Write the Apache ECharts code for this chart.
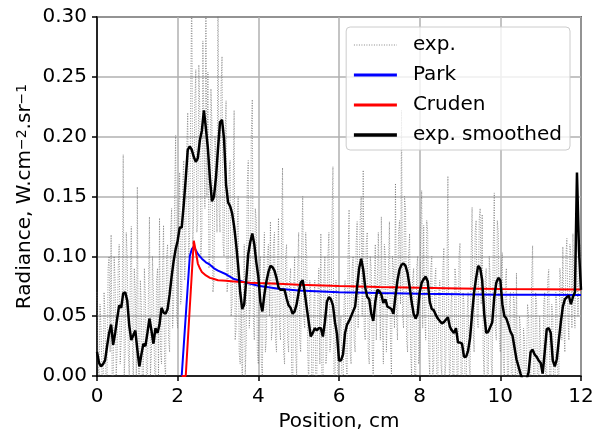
<!DOCTYPE html>
<html>
<head>
<meta charset="utf-8">
<script src="https://cdn.jsdelivr.net/npm/echarts@6/dist/echarts.min.js"></script>
<style>
  html, body { margin: 0; padding: 0; background: #fff; }
  #chart { width: 601px; height: 431px; }
</style>
</head>
<body>
<div id="chart"></div>
<script>
// Sampling steps along the position axis (cm)
const expStep = 0.025;
const smoothStep = 0.05;

// Measured radiance, raw (one row per cm)
const expValues = [
  0.07, 0.01, 0.00, 0.06, 0.04, 0.00, -0.02, 0.07, 0.05, -0.01, 0.00, 0.09, 0.10, 0.02, 0.118, 0.00, -0.01, 0.10, 0.08, 0.00,
  0.02, 0.09, 0.11, 0.01, 0.03, 0.06, 0.185, 0.00, 0.02, 0.12, 0.10, 0.02, 0.00, 0.08, 0.125, 0.03, -0.01, 0.09, 0.07, 0.00,
  0.158, 0.01, -0.02, 0.08, 0.06, -0.01, 0.00, 0.09, 0.066, 0.00, -0.01, 0.07, 0.133, 0.00, 0.02, 0.10, 0.07, 0.01, -0.02, 0.08,
  0.09, 0.00, 0.132, 0.02, 0.01, 0.09, 0.126, 0.01, 0.00, 0.10, 0.11, 0.03, 0.02, 0.12, 0.14, 0.04, 0.06, 0.15, 0.201, 0.05,
  0.04, 0.13, 0.17, 0.06, 0.07, 0.16, 0.18, 0.08, 0.11, 0.19, 0.22, 0.10, 0.12, 0.24, 0.33, 0.11, 0.14, 0.23, 0.256, 0.12,
  0.13, 0.26, 0.22, 0.10, 0.12, 0.28, 0.20, 0.14, 0.33, 0.15, 0.254, 0.09, 0.10, 0.24, 0.21, 0.07, 0.08, 0.20, 0.18, 0.12,
  0.33, 0.14, 0.12, 0.24, 0.267, 0.11, 0.10, 0.20, 0.23, 0.07, 0.08, 0.17, 0.18, 0.05, 0.06, 0.15, 0.222, 0.03, 0.04, 0.12,
  0.15, 0.02, 0.01, 0.07, -0.02, 0.05, 0.11, 0.00, 0.03, 0.16, 0.18, 0.04, 0.06, 0.20, 0.231, 0.05, 0.03, 0.14, 0.13, 0.02,
  0.01, 0.08, 0.10, 0.01, 0.00, 0.09, 0.12, 0.02, 0.03, 0.10, 0.11, 0.05, 0.129, 0.03, 0.04, 0.11, 0.12, 0.03, 0.02, 0.09,
  0.132, 0.04, 0.03, 0.12, 0.174, 0.02, 0.01, 0.10, 0.11, 0.03, 0.02, 0.08, 0.09, 0.01, -0.02, 0.07, 0.10, 0.02, 0.00, 0.09,
  0.12, 0.03, 0.02, 0.11, 0.15, 0.05, 0.04, 0.12, 0.10, 0.02, -0.01, 0.08, 0.07, 0.00, -0.02, 0.06, 0.08, -0.01, 0.00, 0.07,
  0.09, 0.01, 0.119, 0.00, -0.02, 0.08, 0.10, 0.01, 0.02, 0.10, 0.12, 0.02, 0.03, 0.13, 0.175, 0.00, -0.01, 0.08, 0.06, -0.02,
  -0.02, 0.04, 0.05, -0.01, -0.02, 0.06, 0.08, 0.01, 0.00, 0.10, 0.139, 0.02, 0.01, 0.09, 0.10, 0.03, 0.02, 0.11, 0.129, 0.04,
  0.04, 0.13, 0.15, 0.05, 0.172, 0.04, 0.03, 0.11, 0.12, 0.02, 0.01, 0.10, 0.09, 0.02, -0.01, 0.08, 0.11, 0.03, 0.03, 0.12,
  0.12, 0.03, 0.133, 0.04, 0.01, 0.11, 0.10, 0.02, 0.02, 0.09, 0.129, 0.03, 0.00, 0.10, 0.09, 0.04, 0.161, 0.05, 0.03, 0.12,
  0.13, 0.06, 0.222, 0.05, 0.04, 0.15, 0.14, 0.03, 0.02, 0.10, 0.119, 0.02, 0.00, 0.08, 0.09, 0.00, -0.01, 0.09, 0.10, 0.01,
  0.02, 0.12, 0.155, 0.04, 0.126, 0.05, 0.03, 0.13, 0.12, 0.02, 0.00, 0.09, 0.10, 0.00, 0.01, 0.08, 0.09, 0.00, -0.01, 0.07,
  0.08, 0.01, 0.00, 0.09, 0.107, 0.00, 0.01, 0.08, 0.167, 0.02, -0.02, 0.06, 0.07, -0.01, 0.00, 0.09, 0.08, 0.00, -0.01, 0.10,
  0.111, 0.00, -0.01, 0.07, 0.06, -0.01, -0.02, 0.05, 0.07, 0.01, 0.00, 0.10, 0.141, 0.04, 0.02, 0.12, 0.13, 0.05, 0.04, 0.13,
  0.14, 0.06, 0.135, 0.02, 0.00, 0.08, 0.09, 0.00, -0.01, 0.10, 0.08, 0.01, 0.00, 0.11, 0.153, 0.04, 0.03, 0.13, 0.12, 0.03,
  0.02, 0.09, 0.103, 0.01, 0.00, 0.08, 0.09, 0.00, -0.01, 0.06, 0.07, -0.01, -0.02, 0.07, 0.06, -0.02, 0.086, 0.00, -0.03, 0.05,
  0.04, -0.02, -0.04, 0.04, 0.03, -0.03, -0.03, 0.06, 0.05, 0.00, -0.02, 0.08, 0.109, -0.01, -0.02, 0.07, 0.06, -0.02, -0.01, 0.05,
  0.05, 0.00, -0.03, 0.06, 0.07, -0.01, 0.00, 0.08, 0.089, 0.00, -0.01, 0.06, 0.05, -0.02, -0.03, 0.07, 0.06, 0.00, -0.01, 0.09,
  0.08, 0.03, 0.108, 0.04, 0.02, 0.10, 0.115, 0.05, 0.03, 0.11, 0.10, 0.04, 0.119, 0.06, 0.04, 0.12, 0.12, 0.05, 0.05, 0.11,
  0.10
];

// Measured radiance, smoothed (one row per cm)
const smoothValues = [
  0.020, 0.011, 0.008, 0.010, 0.013, 0.025, 0.036, 0.043, 0.026, 0.036, 0.048, 0.059, 0.057, 0.069, 0.070, 0.063, 0.042, 0.030, 0.034, 0.038,
  0.022, 0.008, 0.018, 0.027, 0.025, 0.036, 0.048, 0.038, 0.027, 0.040, 0.036, 0.043, 0.057, 0.053, 0.052, 0.056, 0.068, 0.083, 0.096, 0.106,
  0.113, 0.124, 0.124, 0.143, 0.165, 0.189, 0.192, 0.189, 0.183, 0.179, 0.182, 0.197, 0.205, 0.222, 0.207, 0.190, 0.165, 0.146, 0.150, 0.166,
  0.190, 0.212, 0.214, 0.198, 0.160, 0.145, 0.142, 0.136, 0.125, 0.110, 0.092, 0.070, 0.056, 0.060, 0.080, 0.102, 0.112, 0.119, 0.110, 0.095,
  0.083, 0.062, 0.054, 0.068, 0.079, 0.087, 0.092, 0.091, 0.088, 0.082, 0.074, 0.072, 0.072, 0.072, 0.065, 0.059, 0.057, 0.052, 0.054, 0.060,
  0.070, 0.078, 0.080, 0.070, 0.057, 0.045, 0.033, 0.036, 0.040, 0.038, 0.040, 0.040, 0.033, 0.045, 0.062, 0.066, 0.064, 0.059, 0.045, 0.035,
  0.013, 0.013, 0.018, 0.036, 0.043, 0.046, 0.050, 0.054, 0.058, 0.075, 0.090, 0.098, 0.089, 0.074, 0.066, 0.064, 0.052, 0.046, 0.062, 0.072,
  0.071, 0.068, 0.061, 0.064, 0.058, 0.057, 0.056, 0.052, 0.067, 0.080, 0.089, 0.093, 0.094, 0.092, 0.086, 0.075, 0.062, 0.052, 0.048, 0.052,
  0.070, 0.078, 0.081, 0.083, 0.079, 0.062, 0.056, 0.055, 0.051, 0.048, 0.046, 0.044, 0.045, 0.047, 0.049, 0.041, 0.038, 0.036, 0.040, 0.028,
  0.028, 0.027, 0.016, 0.016, 0.021, 0.032, 0.052, 0.070, 0.082, 0.092, 0.090, 0.080, 0.052, 0.036, 0.037, 0.041, 0.045, 0.066, 0.078, 0.082,
  0.080, 0.060, 0.050, 0.048, 0.043, 0.037, 0.034, 0.024, 0.014, 0.008, 0.002, -0.003, -0.005, -0.003, 0.003, 0.020, 0.022, 0.018, 0.016, 0.013,
  0.011, 0.002, 0.020, 0.039, 0.040, 0.036, 0.013, 0.008, 0.014, 0.030, 0.045, 0.058, 0.064, 0.066, 0.067, 0.060, 0.066, 0.070, 0.170, 0.105,
  0.072
];

// Model predictions (positions in cm)
const modelX = [2.10, 2.20, 2.30, 2.35, 2.40, 2.45, 2.50, 2.55, 2.60, 2.70, 2.80, 2.90, 3.00, 3.20, 3.40, 3.60, 3.80, 4.00, 4.50, 5.00, 6.00, 7.00, 8.00, 9.00, 10.00, 11.00, 12.00];
const parkValues = [0, 0.050, 0.100, 0.106, 0.108, 0.105, 0.102, 0.100, 0.098, 0.095, 0.093, 0.090, 0.088, 0.085, 0.081, 0.079, 0.077, 0.0755, 0.073, 0.0715, 0.0700, 0.0693, 0.0687, 0.0683, 0.0680, 0.0678, 0.0676];
const crudenValues = [0, 0, 0.057, 0.085, 0.113, 0.104, 0.094, 0.090, 0.087, 0.084, 0.082, 0.081, 0.080, 0.0795, 0.079, 0.0785, 0.078, 0.0777, 0.0770, 0.0763, 0.0752, 0.0744, 0.0737, 0.0732, 0.0728, 0.0725, 0.0722];

// Axis ticks
const xTicks = [0, 2, 4, 6, 8, 10, 12];
const yTicks = [0.00, 0.05, 0.10, 0.15, 0.20, 0.25, 0.30];

const FONT = 'DejaVu Sans';
const sampled = (vals, dx) => vals.map((v, i) => [+(i * dx).toFixed(3), v]);
const paired = (xs, ys) => xs.map((x, i) => [x, ys[i]]);

const axisCommon = {
  type: 'value',
  nameLocation: 'middle',
  nameTextStyle: { fontFamily: FONT, fontSize: 20, color: '#000' },
  axisLine: { show: true, onZero: false, lineStyle: { color: '#000', width: 1.5 } },
  axisTick: { show: true, inside: false, length: 5, lineStyle: { color: '#000', width: 1.5 } },
  axisLabel: { fontFamily: FONT, fontSize: 20, color: '#000' },
  splitLine: { show: true, lineStyle: { color: '#b0b0b0', width: 1.5 } }
};

const chart = echarts.init(document.getElementById('chart'), null, { renderer: 'canvas' });
chart.setOption({
  animation: false,
  backgroundColor: '#ffffff',
  grid: {
    left: 97, right: 20, top: 17, bottom: 55,
    outerBoundsMode: 'none', containLabel: false,
    show: true, borderColor: '#000', borderWidth: 1.5, backgroundColor: 'transparent'
  },
  legend: {
    orient: 'vertical',
    right: 31,
    top: 27,
    itemWidth: 43,
    itemHeight: 14,
    itemGap: 10,
    padding: [8, 8, 5, 6],
    backgroundColor: 'rgba(255,255,255,0.8)',
    borderColor: '#cccccc',
    borderWidth: 1,
    borderRadius: 4,
    itemStyle: { opacity: 0 },
    textStyle: { fontFamily: FONT, fontSize: 20, color: '#000', padding: [0, 0, 0, 11] },
    data: [
      { name: 'exp.', lineStyle: { width: 1, type: [1, 1.5], color: '#888888' } },
      { name: 'Park', lineStyle: { width: 3, color: '#0000ff' } },
      { name: 'Cruden', lineStyle: { width: 3, color: '#ff0000' } },
      { name: 'exp. smoothed', lineStyle: { width: 3.5, color: '#000000' } }
    ]
  },
  xAxis: Object.assign({}, axisCommon, {
    min: xTicks[0], max: xTicks[xTicks.length - 1], interval: 2,
    name: 'Position, cm', nameGap: 24,
    axisLabel: Object.assign({}, axisCommon.axisLabel, { margin: 11 })
  }),
  yAxis: Object.assign({}, axisCommon, {
    min: yTicks[0], max: yTicks[yTicks.length - 1], interval: 0.05,
    name: 'Radiance, W.cm{sup|\u22122}.sr{sup|\u22121}', nameGap: 62,
    nameMoveOverlap: false,
    nameTextStyle: Object.assign({}, axisCommon.nameTextStyle, {
      rich: { sup: { fontFamily: FONT, fontSize: 14, color: '#000', verticalAlign: 'top', lineHeight: 14 } }
    }),
    axisLabel: Object.assign({}, axisCommon.axisLabel, { margin: 10, formatter: v => v.toFixed(2) })
  }),
  series: [
    {
      name: 'exp.', type: 'line', symbol: 'none', smooth: false, clip: true, color: '#666666',
      lineStyle: { color: '#666666', width: 0.7, type: [1, 1.5] },
      data: sampled(expValues, expStep), z: 1
    },
    {
      name: 'Park', type: 'line', symbol: 'none', smooth: false, clip: true, color: '#0000ff',
      lineStyle: { color: '#0000ff', width: 2 },
      data: paired(modelX, parkValues), z: 2
    },
    {
      name: 'Cruden', type: 'line', symbol: 'none', smooth: false, clip: true, color: '#ff0000',
      lineStyle: { color: '#ff0000', width: 2 },
      data: paired(modelX, crudenValues), z: 3
    },
    {
      name: 'exp. smoothed', type: 'line', symbol: 'none', smooth: false, clip: true, color: '#000000',
      lineStyle: { color: '#000000', width: 2.5 },
      data: sampled(smoothValues, smoothStep), z: 4
    }
  ]
});
</script>
</body>
</html>
